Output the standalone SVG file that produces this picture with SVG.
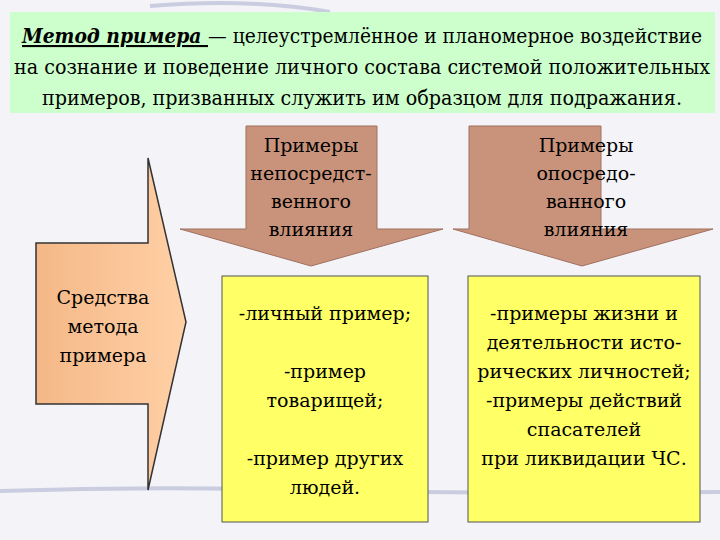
<svg xmlns="http://www.w3.org/2000/svg" width="720" height="540" viewBox="0 0 720 540">
<style>
text{font-family:'DejaVu Serif','Liberation Serif',serif;fill:#000;text-anchor:middle}
.t{font-size:21px}
.b{font-size:19px}
.dn{fill:#c9937b;stroke:#a07060;stroke-width:1}
.yl{fill:#ffff66;stroke:#555;stroke-width:1}
</style>
<rect width="720" height="540" fill="#f3f3f8"/>
<g stroke="#b8bcd6" stroke-width="4" fill="none" opacity="0.7">
<path d="M0 491 Q150 486 300 490 T720 492"/>
<path d="M150 6 Q250 -2 330 12"/>
</g>
<g id="definition">
<rect x="10" y="12" width="705" height="101" fill="#ccffcc"/>
<text class="t" x="362" y="43" textLength="680" lengthAdjust="spacingAndGlyphs"><tspan font-weight="bold" font-style="italic" text-decoration="underline">Метод примера </tspan>— целеустремлённое и планомерное воздействие</text>
<text class="t" x="362" y="74" textLength="696" lengthAdjust="spacingAndGlyphs">на сознание и поведение личного состава системой положительных</text>
<text class="t" x="362" y="105" textLength="640" lengthAdjust="spacingAndGlyphs">примеров, призванных служить им образцом для подражания.</text>
</g>
<g id="means">
<defs><linearGradient id="pg" x1="0" x2="1"><stop offset="0" stop-color="#f5b887"/><stop offset="1" stop-color="#ffd0a6"/></linearGradient></defs>
<path d="M36 243 H148 V158 L186 322 L148 490 V404 H36 Z" fill="url(#pg)" stroke="#333" stroke-width="1.5"/>
<text class="b" x="103" y="304">Средства</text>
<text class="b" x="103" y="333">метода</text>
<text class="b" x="103" y="362">примера</text>
</g>
<g id="direct">
<path class="dn" d="M246 126 H377 V229 H443 L311 266 L180 229 H246 Z"/>
<text class="b" x="311" y="152">Примеры</text>
<text class="b" x="311" y="180">непосредст-</text>
<text class="b" x="311" y="208">венного</text>
<text class="b" x="311" y="236">влияния</text>
</g>
<g id="indirect">
<path class="dn" d="M469 126 H601 V229 H713 L582 266 L453 229 H469 Z"/>
<text class="b" x="586" y="152">Примеры</text>
<text class="b" x="586" y="180">опосредо-</text>
<text class="b" x="586" y="208">ванного</text>
<text class="b" x="586" y="236">влияния</text>
</g>
<g id="direct-list">
<rect class="yl" x="222" y="276" width="206" height="246"/>
<text class="b" x="325" y="320">-личный пример;</text>
<text class="b" x="325" y="378">-пример</text>
<text class="b" x="325" y="407">товарищей;</text>
<text class="b" x="325" y="465">-пример других</text>
<text class="b" x="325" y="494">людей.</text>
</g>
<g id="indirect-list">
<rect class="yl" x="468" y="276" width="232" height="246"/>
<text class="b" x="584" y="320">-примеры жизни и</text>
<text class="b" x="584" y="349">деятельности исто-</text>
<text class="b" x="584" y="378">рических личностей;</text>
<text class="b" x="584" y="407">-примеры действий</text>
<text class="b" x="584" y="436">спасателей</text>
<text class="b" x="584" y="465">при ликвидации ЧС.</text>
</g>
<g id="connectors"></g>
</svg>
